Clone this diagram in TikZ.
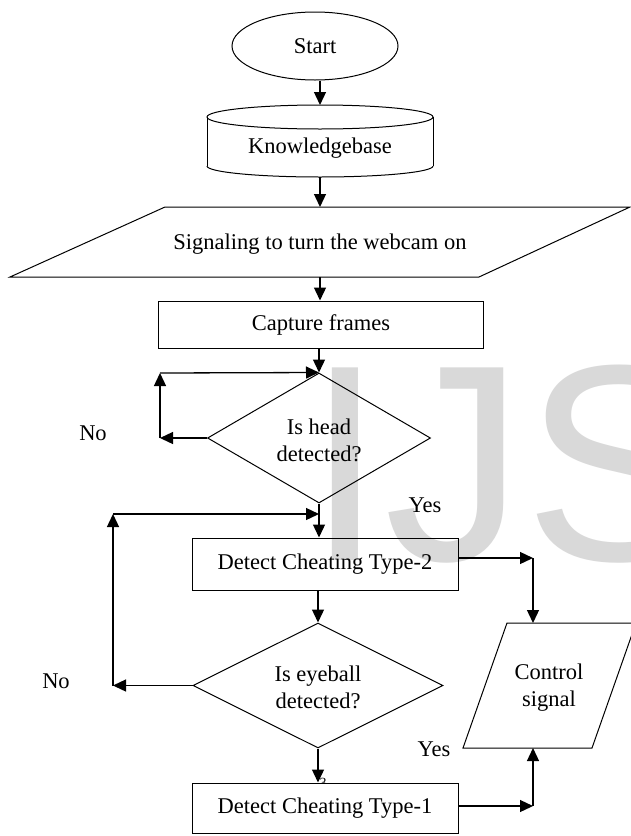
\documentclass[tikz,border=0pt]{standalone}
\usepackage{fontspec}
\setmainfont{Liberation Serif}
\newfontfamily\wmfont{Liberation Sans}
\usetikzlibrary{arrows.meta,shapes.geometric}
\tikzset{
  arr/.style={-{Triangle[length=13pt,width=12pt]}, line width=1.3pt},
  shapeline/.style={draw, line width=1pt},
  boxnode/.style={shapeline, rectangle, inner sep=0pt},
  txt/.style={font=\fontsize{22.5}{27}\selectfont, align=center, inner sep=0pt},
  lbl/.style={font=\fontsize{22.5}{27}\selectfont, inner sep=0pt, anchor=base},
}
\begin{document}
\begin{tikzpicture}[x=1pt,y=-1pt]
\useasboundingbox (0,0) rectangle (631,836);
\fill[white] (0,0) rectangle (631,836);
% watermark
\node[anchor=base west, inner sep=0pt, text=black!15, font=\wmfont\fontsize{280}{280}\selectfont] (wm) at (306,560) {IJS};

% Start
\node[shapeline, ellipse, minimum width=166pt, minimum height=68pt, inner sep=0pt, txt] (start) at (315,46) {Start};

% Knowledgebase cylinder
\coordinate (kbtop) at (320,105);
\coordinate (kbbot) at (320,177);
\draw[line width=1pt] (320,117) ellipse [x radius=113, y radius=12];
\draw[line width=1pt] (207,117) -- (207,166);
\draw[line width=1pt] (433,117) -- (433,166);
\begin{scope}
  \clip (200,166) rectangle (440,182);
  \draw[line width=1pt] (320,166) ellipse [x radius=113, y radius=11];
\end{scope}
\node[txt] (kb) at (320,148) {Knowledgebase};

% Signaling parallelogram
\coordinate (p1tl) at (165,207);
\coordinate (p1tr) at (630,207);
\coordinate (p1br) at (479,277);
\coordinate (p1bl) at (10,277);
\coordinate (p1top) at (320,207);
\coordinate (p1bot) at (320,277);
\draw[line width=1pt] (p1tl) -- (p1tr) -- (p1br) -- (p1bl) -- cycle;
\node[txt] (sig) at (320,244) {Signaling to turn the webcam on};

% Capture frames
\node[boxnode, minimum width=325pt, minimum height=47pt, txt] (cap) at (321,324.5) {Capture frames};

% Decision 1
\node[shapeline, diamond, minimum width=223pt, minimum height=130pt, inner sep=0pt] (d1) at (319,438) {};
\node[txt] (d1t) at (319,440) {Is head\\detected?};

% Detect cheating type-2
\node[boxnode, minimum width=266pt, minimum height=52pt, txt] (t2) at (325,564) {Detect Cheating Type-2};

% Decision 2
\node[shapeline, diamond, minimum width=250pt, minimum height=125pt, inner sep=0pt] (d2) at (318,685.5) {};
\node[txt] (d2t) at (318,687) {Is eyeball\\detected?};

% small 3 (partially hidden)
\node[inner sep=0pt, anchor=base, font=\fontsize{14}{14}\selectfont] (three) at (323,787) {3};

% Detect cheating type-1
\node[boxnode, fill=white, minimum width=266pt, minimum height=50pt, txt] (t1) at (325,808) {Detect Cheating Type-1};

% Control signal parallelogram
\coordinate (cstl) at (507,623);
\coordinate (cstr) at (636,623);
\coordinate (csbr) at (592,748);
\coordinate (csbl) at (463,748);
\coordinate (cstop) at (533,623);
\coordinate (csbot) at (533,748);
\draw[line width=1pt] (cstl) -- (cstr) -- (csbr) -- (csbl) -- cycle;
\node[txt] (cs) at (549,688) {Control\\signal};

% labels
\node[lbl] (no1) at (93,440) {No};
\node[lbl] (yes1) at (425,512) {Yes};
\node[lbl] (no2) at (56,688) {No};
\node[lbl] (yes2) at (434,756) {Yes};

% main connectors
\draw[arr] (start.south -| kbtop) -- (kbtop);
\draw[arr] (kbbot) -- (p1top);
\draw[arr] (p1bot) -- (p1bot |- cap.north);
\draw[arr] (cap.south -| d1.north) -- (d1.north);
\draw[arr] (d1.south) -- (d1.south |- t2.north);
\draw[arr] (t2.south -| d2.north) -- (d2.north);
\draw[arr] (d2.south) -- (d2.south |- t1.north);

% loop 1 (head not detected)
\coordinate (l1a) at (160,438);
\coordinate (l1b) at (160,373);
\draw[arr] (d1.west) -- (l1a);
\draw[arr] (l1a) -- (l1b);
\draw[arr] (l1b) -- (d1.north);

% loop 2 (eyeball not detected)
\coordinate (l2a) at (113,685.5);
\coordinate (l2b) at (113,514);
\coordinate (m2) at (319,514);
\draw[arr] (d2.west) -- (l2a);
\draw[arr] (l2a) -- (l2b);
\draw[arr] (l2b) -- (m2);

% right side to control signal
\coordinate (r1) at (533,558);
\coordinate (r2) at (533,806);
\draw[arr] (t2.east |- r1) -- (r1);
\draw[arr] (r1) -- (cstop);
\draw[arr] (t1.east |- r2) -- (r2);
\draw[arr] (r2) -- (csbot);
\end{tikzpicture}
\end{document}
